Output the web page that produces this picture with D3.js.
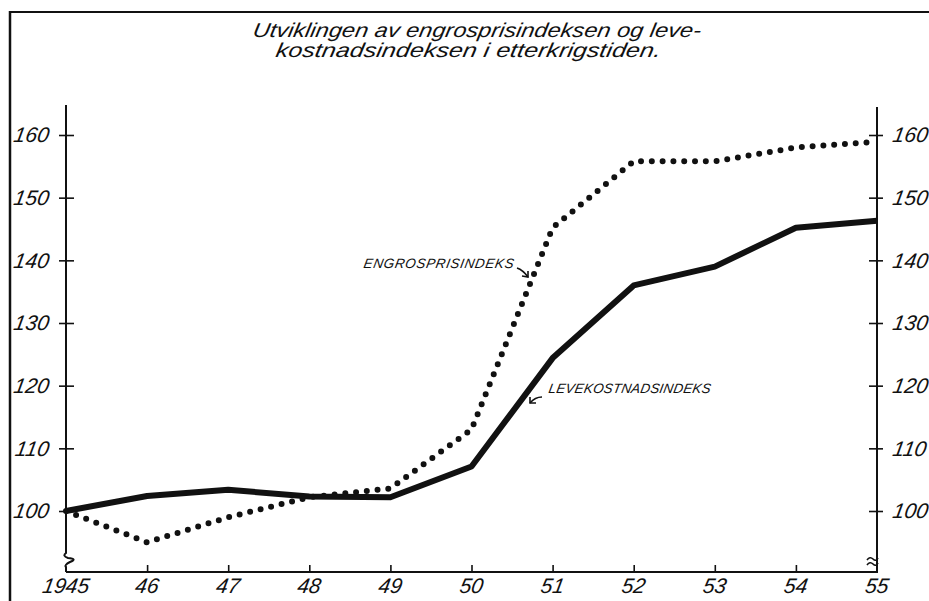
<!DOCTYPE html>
<html>
<head>
<meta charset="utf-8">
<script src="https://cdn.jsdelivr.net/npm/d3@7"></script>
<style>
  html, body { margin: 0; padding: 0; background: #fff; }
  svg { display: block; }
  svg text { font-family: "Liberation Sans", Arial, sans-serif !important; font-style: italic !important; fill: #111; }
</style>
</head>
<body>
<svg id="chart" width="929" height="601"></svg>
<script>
const years = [1945, 1946, 1947, 1948, 1949, 1950, 1951, 1952, 1953, 1954, 1955];
const yearLabels = ["1945", "46", "47", "48", "49", "50", "51", "52", "53", "54", "55"];
const levekostnad = [100, 102.4, 103.4, 102.3, 102.2, 107.1, 124.4, 136.0, 139.0, 145.2, 146.3];
const engros = [100, 95.0, 99.0, 102.2, 103.6, 113.0, 145.2, 155.8, 155.8, 158.0, 158.9];
const yTicks = [100, 110, 120, 130, 140, 150, 160];
const titleLines = ["Utviklingen av engrosprisindeksen og leve-", "kostnadsindeksen i  etterkrigstiden."];
const seriesLabels = ["ENGROSPRISINDEKS", "LEVEKOSTNADSINDEKS"];

const svg = d3.select("#chart");
const ink = "#111";
const skew = "skewX(-10)";

const x = d3.scaleLinear().domain([1945, 1955]).range([66, 877]);
const y = d3.scaleLinear().domain([100, 160]).range([511, 135]);
const baseY = 572;

// frame
svg.append("line").attr("x1", 9).attr("x2", 929).attr("y1", 12).attr("y2", 12)
  .attr("stroke", ink).attr("stroke-width", 2);
svg.append("line").attr("x1", 10).attr("x2", 10).attr("y1", 11).attr("y2", 601)
  .attr("stroke", ink).attr("stroke-width", 2.5);

// title
const tl = [{t: titleLines[0], x: 252, y: 37, w: 448}, {t: titleLines[1], x: 275, y: 57, w: 385}];
svg.selectAll("g.title").data(tl).join("g").attr("class", "title")
  .attr("transform", d => `translate(${d.x},${d.y}) ${skew}`)
  .append("text")
  .attr("textLength", d => d.w).attr("lengthAdjust", "spacingAndGlyphs")
  .style("font-size", "20px")
  .text(d => d.t);

// left axis line with break
const L = x(1945), R = x(1955);
svg.append("path")
  .attr("d", `M${L},105 L${L},553 Q${L-4},556 ${L+2},558 Q${L+12},559 ${L+4},562 Q${L-2},565 ${L},567 L${L},${baseY}`)
  .attr("fill", "none").attr("stroke", ink).attr("stroke-width", 2);
// right axis line
svg.append("line").attr("x1", R).attr("x2", R).attr("y1", 107).attr("y2", baseY + 1)
  .attr("stroke", ink).attr("stroke-width", 2);
// right break "≈"
[559, 564].forEach(yy => {
  svg.append("path")
    .attr("d", `M${R-10},${yy+1} Q${R-7},${yy-3} ${R-4},${yy} Q${R-1},${yy+3} ${R+1},${yy-1}`)
    .attr("fill", "none").attr("stroke", ink).attr("stroke-width", 1.6);
});
// bottom axis line
svg.append("line").attr("x1", L).attr("x2", R).attr("y1", baseY).attr("y2", baseY)
  .attr("stroke", ink).attr("stroke-width", 2);

// y axes
const leftAxis = svg.append("g").attr("transform", `translate(${L},0)`)
  .call(d3.axisLeft(y).tickValues(yTicks).tickSize(7).tickPadding(10).tickFormat(d3.format("d")));
leftAxis.select(".domain").remove();
leftAxis.selectAll(".tick line").attr("x1", 8).attr("stroke", ink).attr("stroke-width", 1.6);
leftAxis.selectAll(".tick text").style("font-size", "21px").attr("fill", ink).attr("transform", skew);

const rightAxis = svg.append("g").attr("transform", `translate(${R},0)`)
  .call(d3.axisRight(y).tickValues(yTicks).tickSize(6).tickPadding(10).tickFormat(d3.format("d")));
rightAxis.select(".domain").remove();
rightAxis.selectAll(".tick line").attr("x1", -8).attr("stroke", ink).attr("stroke-width", 1.6);
rightAxis.selectAll(".tick text").style("font-size", "21px").attr("fill", ink).attr("transform", skew);

// x axis
const xAxis = svg.append("g").attr("transform", `translate(0,${baseY})`)
  .call(d3.axisBottom(x).tickValues(years).tickSize(0).tickPadding(6)
    .tickFormat((d, i) => yearLabels[i]));
xAxis.select(".domain").remove();
xAxis.selectAll(".tick text").style("font-size", "21px").attr("fill", ink)
  .attr("transform", "translate(2,0) " + skew);
xAxis.selectAll(".tick").filter(d => d > 1945 && d < 1955).append("line")
  .attr("y1", 0).attr("y2", -7).attr("stroke", ink).attr("stroke-width", 1.6);

// lines
const line = d3.line().x((d, i) => x(years[i])).y(d => y(d));
svg.append("path").datum(engros).attr("d", line)
  .attr("fill", "none").attr("stroke", ink).attr("stroke-width", 6)
  .attr("stroke-linecap", "round").attr("stroke-dasharray", "0 10.8");
svg.append("path").datum(levekostnad).attr("d", line)
  .attr("fill", "none").attr("stroke", ink).attr("stroke-width", 6)
  .attr("stroke-linejoin", "round");

// annotations
svg.append("g").attr("transform", `translate(363,268) ${skew}`).append("text")
  .attr("textLength", 150).attr("lengthAdjust", "spacing")
  .style("font-size", "13.5px").text(seriesLabels[0]);
svg.append("path").attr("d", "M517,268 Q523,270 528,277")
  .attr("fill", "none").attr("stroke", ink).attr("stroke-width", 1.6);
svg.append("path").attr("d", "M522,276 L528,277 L528,271")
  .attr("fill", "none").attr("stroke", ink).attr("stroke-width", 1.6);

svg.append("g").attr("transform", `translate(548,393) ${skew}`).append("text")
  .attr("textLength", 162).attr("lengthAdjust", "spacing")
  .style("font-size", "13.5px").text(seriesLabels[1]);
svg.append("path").attr("d", "M542,397 Q535,397 530,403")
  .attr("fill", "none").attr("stroke", ink).attr("stroke-width", 1.6);
svg.append("path").attr("d", "M530,397 L530,403 L536,403")
  .attr("fill", "none").attr("stroke", ink).attr("stroke-width", 1.6);
</script>
</body>
</html>
